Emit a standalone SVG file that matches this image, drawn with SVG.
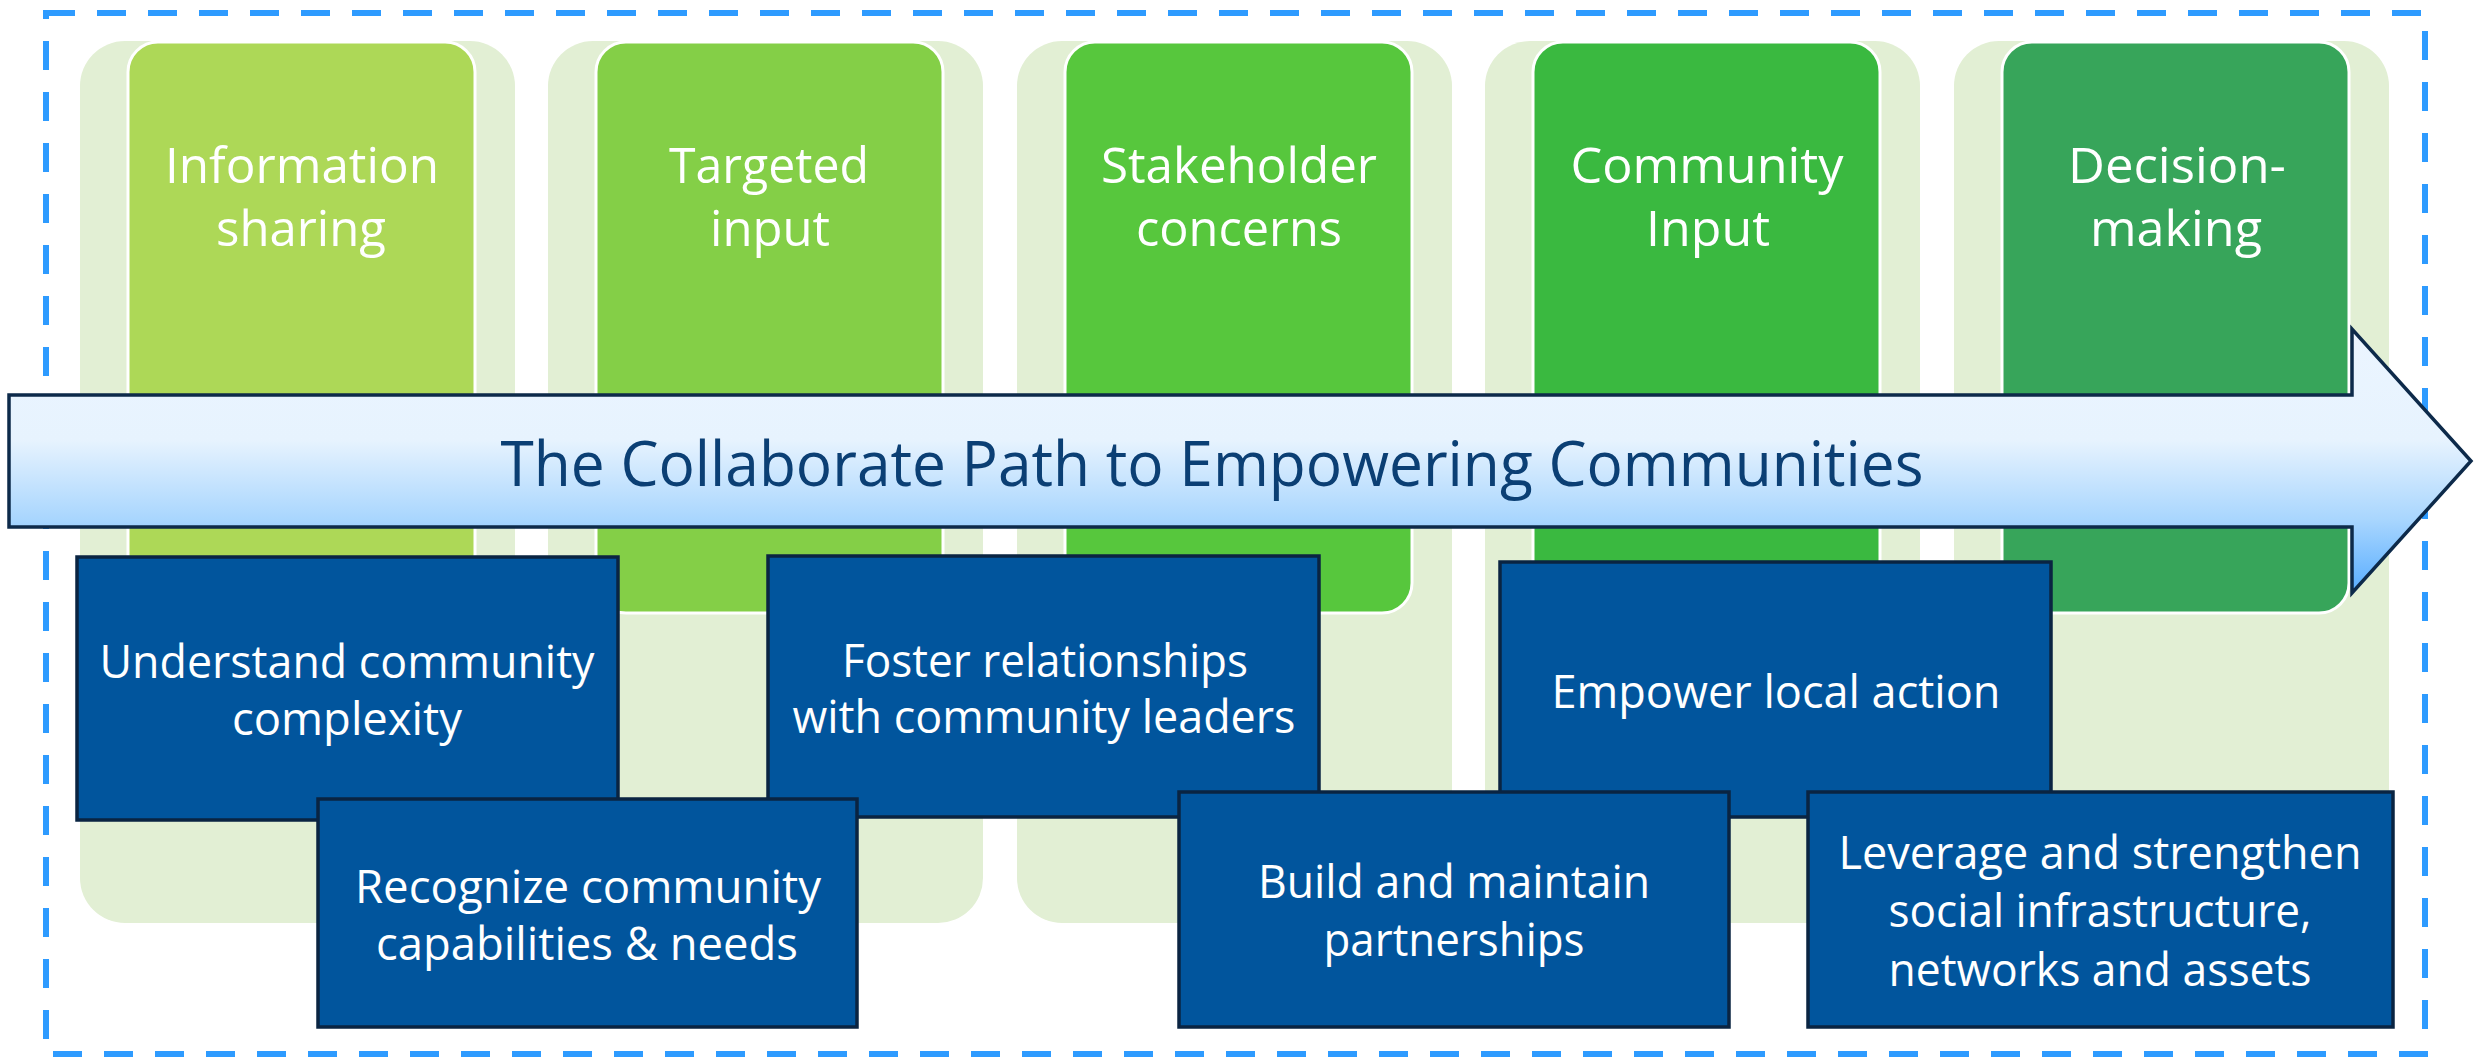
<svg xmlns="http://www.w3.org/2000/svg" width="2474" height="1063" viewBox="0 0 2474 1063">
<defs>
<linearGradient id="arrowGrad" gradientUnits="userSpaceOnUse" x1="0" y1="329" x2="0" y2="593">
<stop offset="0" stop-color="#EBF5FF"/>
<stop offset="0.42" stop-color="#E7F3FE"/>
<stop offset="0.72" stop-color="#A9D6FE"/>
<stop offset="1" stop-color="#58ADFF"/>
</linearGradient>
<style>
.panel{fill:#E2EFD4;}
.col{stroke:#FFFFFF;stroke-width:3;}
.coltxt{font-family:"Segoe UI","Open Sans","Noto Sans",sans-serif;font-size:49px;fill:#FFFFFF;text-anchor:middle;}
.bbox{fill:#01559D;stroke:#0A2442;stroke-width:3.5;}
.btxt{font-family:"Segoe UI","Open Sans","Noto Sans",sans-serif;font-size:46px;fill:#FFFFFF;text-anchor:middle;}
.arrtxt{font-family:"Segoe UI","Open Sans","Noto Sans",sans-serif;font-size:62px;fill:#0B3F74;text-anchor:middle;}
</style>
</defs>
<rect x="0" y="0" width="2474" height="1063" fill="#FFFFFF"/>
<rect id="frame" x="46" y="13" width="2379" height="1041" fill="none" stroke="#2E9BFF" stroke-width="6" stroke-dasharray="29 22"/>

<g id="panels">
<rect class="panel" x="80" y="41" width="435" height="882" rx="45" ry="45"/>
<rect class="panel" x="548" y="41" width="435" height="882" rx="45" ry="45"/>
<rect class="panel" x="1017" y="41" width="435" height="882" rx="45" ry="45"/>
<rect class="panel" x="1485" y="41" width="435" height="882" rx="45" ry="45"/>
<rect class="panel" x="1954" y="41" width="435" height="882" rx="45" ry="45"/>
</g>

<g id="col1">
<rect class="col" x="128" y="42" width="347" height="571" rx="30" ry="30" fill="#ADD857"/>
<text class="coltxt" x="302" y="183" textLength="274" lengthAdjust="spacingAndGlyphs">Information</text>
<text class="coltxt" x="301" y="246" textLength="170" lengthAdjust="spacingAndGlyphs">sharing</text>
</g>
<g id="col2">
<rect class="col" x="596" y="42" width="347" height="571" rx="30" ry="30" fill="#84CF47"/>
<text class="coltxt" x="769" y="183" textLength="200" lengthAdjust="spacingAndGlyphs">Targeted</text>
<text class="coltxt" x="770" y="246" textLength="120" lengthAdjust="spacingAndGlyphs">input</text>
</g>
<g id="col3">
<rect class="col" x="1065" y="42" width="347" height="571" rx="30" ry="30" fill="#57C73D"/>
<text class="coltxt" x="1239" y="183" textLength="276" lengthAdjust="spacingAndGlyphs">Stakeholder</text>
<text class="coltxt" x="1239" y="246" textLength="206" lengthAdjust="spacingAndGlyphs">concerns</text>
</g>
<g id="col4">
<rect class="col" x="1533" y="42" width="347" height="571" rx="30" ry="30" fill="#3AB940"/>
<text class="coltxt" x="1707" y="183" textLength="273" lengthAdjust="spacingAndGlyphs">Community</text>
<text class="coltxt" x="1708" y="246" textLength="124" lengthAdjust="spacingAndGlyphs">Input</text>
</g>
<g id="col5">
<rect class="col" x="2002" y="42" width="347" height="571" rx="30" ry="30" fill="#37A55A"/>
<text class="coltxt" x="2177" y="183" textLength="218" lengthAdjust="spacingAndGlyphs">Decision-</text>
<text class="coltxt" x="2176" y="246" textLength="172" lengthAdjust="spacingAndGlyphs">making</text>
</g>

<g id="arrow">
<path d="M9,395 H2352 V329 L2471,461 L2352,593 V527 H9 Z" fill="url(#arrowGrad)" stroke="#0D2A4A" stroke-width="3.5" stroke-linejoin="miter"/>
<text class="arrtxt" x="1212" y="486" textLength="1423" lengthAdjust="spacingAndGlyphs">The Collaborate Path to Empowering Communities</text>
</g>

<g id="boxA">
<rect class="bbox" x="77" y="557" width="541" height="263"/>
<text class="btxt" x="347" y="678" textLength="495" lengthAdjust="spacingAndGlyphs">Understand community</text>
<text class="btxt" x="347" y="735" textLength="230" lengthAdjust="spacingAndGlyphs">complexity</text>
</g>
<g id="boxC">
<rect class="bbox" x="768" y="556" width="551" height="261"/>
<text class="btxt" x="1045" y="677" textLength="406" lengthAdjust="spacingAndGlyphs">Foster relationships</text>
<text class="btxt" x="1044" y="733" textLength="503" lengthAdjust="spacingAndGlyphs">with community leaders</text>
</g>
<g id="boxD">
<rect class="bbox" x="1500" y="562" width="551" height="255"/>
<text class="btxt" x="1776" y="708" textLength="449" lengthAdjust="spacingAndGlyphs">Empower local action</text>
</g>
<g id="boxB">
<rect class="bbox" x="318" y="799" width="539" height="228"/>
<text class="btxt" x="588" y="903" textLength="466" lengthAdjust="spacingAndGlyphs">Recognize community</text>
<text class="btxt" x="587" y="960" textLength="422" lengthAdjust="spacingAndGlyphs">capabilities &amp; needs</text>
</g>
<g id="boxE">
<rect class="bbox" x="1179" y="792" width="550" height="235"/>
<text class="btxt" x="1454" y="898" textLength="392" lengthAdjust="spacingAndGlyphs">Build and maintain</text>
<text class="btxt" x="1454" y="956" textLength="261" lengthAdjust="spacingAndGlyphs">partnerships</text>
</g>
<g id="boxF">
<rect class="bbox" x="1808" y="792" width="585" height="235"/>
<text class="btxt" x="2100" y="869" textLength="523" lengthAdjust="spacingAndGlyphs">Leverage and strengthen</text>
<text class="btxt" x="2100" y="927" textLength="423" lengthAdjust="spacingAndGlyphs">social infrastructure,</text>
<text class="btxt" x="2100" y="986" textLength="423" lengthAdjust="spacingAndGlyphs">networks and assets</text>
</g>
<g id="connectors"></g>
</svg>
